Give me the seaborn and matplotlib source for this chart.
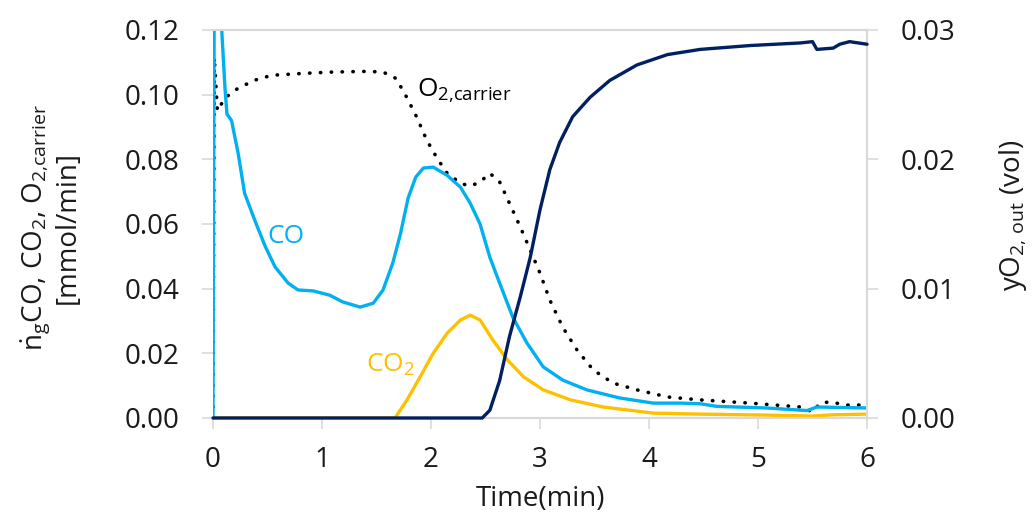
import numpy as np
import pandas as pd
import matplotlib
matplotlib.use("Agg")
import matplotlib.pyplot as plt
import seaborn as sns

# ---------------- data ----------------
co_t = [0.0, 0.012, 0.05, 0.08, 0.11, 0.128, 0.17, 0.23, 0.29, 0.385, 0.48, 0.57, 0.69,
        0.78, 0.92, 1.07, 1.19, 1.35, 1.47, 1.56, 1.65, 1.72, 1.79, 1.86, 1.93, 2.02,
        2.15, 2.27, 2.36, 2.45, 2.54, 2.63, 2.75, 2.88, 3.03, 3.21, 3.43, 3.73, 4.04,
        4.30, 4.47, 4.62, 5.08, 5.45, 5.54, 6.0]
co_v = [0.0, 0.14, 0.14, 0.12, 0.102, 0.094, 0.092, 0.082, 0.0695, 0.061, 0.053, 0.0467,
        0.0417, 0.0396, 0.0393, 0.038, 0.0359, 0.0343, 0.0355, 0.0396, 0.048, 0.057,
        0.068, 0.0745, 0.0773, 0.0776, 0.075, 0.0714, 0.0664, 0.060, 0.0497, 0.0417,
        0.0312, 0.0232, 0.0158, 0.0117, 0.0087, 0.0062, 0.0046, 0.0046, 0.0044, 0.0036,
        0.0031, 0.0023, 0.0034, 0.0031]

co2_t = [0.0, 1.67, 1.78, 1.90, 2.02, 2.15, 2.27, 2.36, 2.45, 2.57, 2.70, 2.85, 3.03,
         3.28, 3.58, 4.04, 4.47, 5.08, 5.5, 5.69, 6.0]
co2_v = [0.0, 0.0, 0.0056, 0.0127, 0.020, 0.0263, 0.0303, 0.0318, 0.0303, 0.024, 0.018,
         0.0127, 0.0087, 0.0056, 0.0034, 0.0015, 0.0012, 0.0009, 0.0006, 0.001, 0.0012]

o2c_t = [0.0, 0.012, 0.04, 0.11, 0.23, 0.385, 0.54, 0.84, 1.10, 1.41, 1.56, 1.68, 1.78,
         1.87, 1.96, 2.05, 2.14, 2.27, 2.36, 2.45, 2.54, 2.63, 2.72, 2.82, 2.91, 3.0,
         3.09, 3.21, 3.34, 3.49, 3.67, 3.89, 4.17, 4.47, 4.93, 5.39, 5.5, 5.57, 5.66,
         5.81, 6.0]
o2c_v = [0.0, 0.1116, 0.095, 0.099, 0.102, 0.1045, 0.106, 0.1066, 0.107, 0.1072, 0.107,
         0.105, 0.099, 0.093, 0.086, 0.0807, 0.076, 0.0726, 0.0717, 0.073, 0.0757, 0.073,
         0.0664, 0.059, 0.052, 0.0448, 0.0365, 0.028, 0.021, 0.0148, 0.0108, 0.0087,
         0.0065, 0.0056, 0.0046, 0.0034, 0.0019, 0.0046, 0.005, 0.004, 0.004]

yo2_t = [0.0, 2.47, 2.54, 2.63, 2.72, 2.82, 2.91, 3.0, 3.09, 3.18, 3.30, 3.46, 3.64,
         3.89, 4.17, 4.47, 4.93, 5.39, 5.5, 5.54, 5.69, 5.75, 5.84, 6.0]
yo2_v = [0.0, 0.0, 0.0006, 0.0029, 0.0063, 0.0094, 0.0124, 0.0161, 0.0192, 0.0213,
         0.0233, 0.0248, 0.0261, 0.0273, 0.0281, 0.0285, 0.0288, 0.0290, 0.0291, 0.0285,
         0.0286, 0.0289, 0.0291, 0.0289]

x_ticks = [0, 1, 2, 3, 4, 5, 6]
left_ticks = [0.00, 0.02, 0.04, 0.06, 0.08, 0.10, 0.12]
right_ticks = [0.00, 0.01, 0.02, 0.03]

# ---------------- style ----------------
sns.set_theme(style="white")
FONT = "Open Sans"
plt.rcParams["font.family"] = [FONT, "DejaVu Sans"]
plt.rcParams["mathtext.fontset"] = "custom"
plt.rcParams["mathtext.rm"] = FONT
plt.rcParams["mathtext.it"] = FONT
plt.rcParams["mathtext.bf"] = FONT

C_CO = "#00B0F0"
C_CO2 = "#FFC000"
C_NAVY = "#002060"
C_GRID = "#D9D9D9"
C_TXT = "#1A1A1A"

fig = plt.figure(figsize=(10.33, 5.22), dpi=100)
ax = fig.add_axes([213 / 1033, 104 / 522, 654 / 1033, 388 / 522])
ax2 = ax.twinx()

df_co = pd.DataFrame({"t": co_t, "v": co_v})
df_co2 = pd.DataFrame({"t": co2_t, "v": co2_v})
df_o2c = pd.DataFrame({"t": o2c_t, "v": o2c_v})
df_yo2 = pd.DataFrame({"t": yo2_t, "v": yo2_v})

sns.lineplot(data=df_co2, x="t", y="v", ax=ax, color=C_CO2, lw=2.4, sort=False, zorder=3)
sns.lineplot(data=df_o2c, x="t", y="v", ax=ax, color="black", lw=2.6, sort=False,
             linestyle=(0, (0.1, 2.9)), dash_capstyle="round", zorder=3)
sns.lineplot(data=df_co, x="t", y="v", ax=ax, color=C_CO, lw=2.4, sort=False, zorder=3)
sns.lineplot(data=df_yo2, x="t", y="v", ax=ax2, color=C_NAVY, lw=2.4, sort=False,
             zorder=3, clip_on=False)

ax.set_xlim(0, 6)
ax.set_ylim(0, 0.12)
ax2.set_ylim(0, 0.03)
ax.set_xticks(x_ticks)
ax.set_xticklabels([str(v) for v in x_ticks])
ax.set_yticks(left_ticks)
ax.set_yticklabels([f"{v:.2f}" for v in left_ticks])
ax2.set_yticks(right_ticks)
ax2.set_yticklabels([f"{v:.2f}" for v in right_ticks])

for a in (ax, ax2):
    for s in a.spines.values():
        s.set_color(C_GRID)
        s.set_linewidth(1.5)
        s.set_zorder(1)
    a.spines["left"].set_visible(False)

ax.tick_params(axis="y", which="major", length=8, width=1.2, color=C_GRID,
               labelsize=20, labelcolor=C_TXT, pad=16, left=True, direction="out")
ax.tick_params(axis="x", which="major", length=8, width=1.2, color=C_GRID,
               labelsize=20, labelcolor=C_TXT, pad=12, bottom=True, direction="out")
ax2.tick_params(axis="y", which="major", length=8, width=1.2, color=C_GRID,
                labelsize=20, labelcolor=C_TXT, pad=16, right=True, direction="out")

ax.set_xlabel("Time(min)", fontsize=20, color=C_TXT)
ax.xaxis.label.set(va="center")
ax.xaxis.set_label_coords(0.5, -0.21)
ax.set_ylabel("$\\dot{n}_{g}$CO, CO$_{2}$, O$_{2{,}\\mathrm{carrier}}$\n[mmol/min]",
              fontsize=20, color=C_TXT, linespacing=1.0, multialignment="center")
ax.yaxis.label.set(va="center", ha="center", rotation_mode="default")
ax.yaxis.set_label_coords(-0.248, 0.49)
ax2.set_ylabel("yO$_{2{,}\\ \\mathrm{out}}$ (vol)", fontsize=20, color=C_TXT, rotation=90)
ax2.yaxis.label.set(va="center", ha="center", rotation_mode="default")
ax2.yaxis.set_label_coords(1.223, 0.523)

ax.grid(False)
ax2.grid(False)

ax.text(0.50, 0.056, "CO", color=C_CO, fontsize=19, ha="left", va="center")
ax.text(1.40, 0.0142, "CO$_{2}$", color=C_CO2, fontsize=19, ha="left", va="baseline")
ax.text(1.87, 0.0992, "O$_{2{,}\\mathrm{carrier}}$", color="black", fontsize=19,
        ha="left", va="baseline")

fig.savefig("out.png", dpi=100)
